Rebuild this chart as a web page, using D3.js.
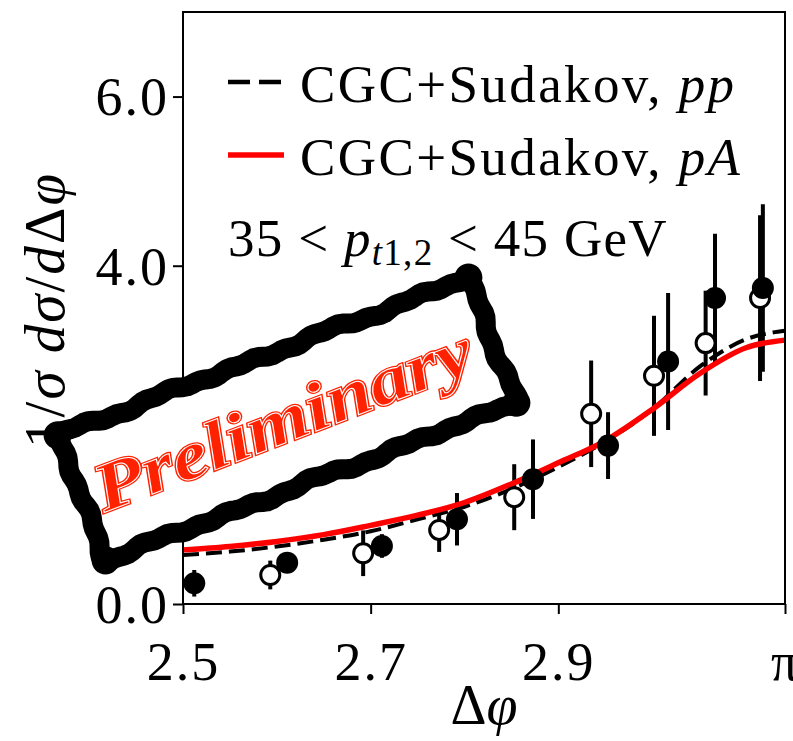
<!DOCTYPE html>
<html><head><meta charset="utf-8">
<script src="https://cdn.jsdelivr.net/npm/d3@7"></script>
<style>body{margin:0;background:#fff} svg{display:block} text{font-family:"Liberation Serif",serif}</style>
</head><body><svg id="c" width="793" height="741"></svg>
<script>
// ---- data ----
const curveX = [2.50, 2.55, 2.60, 2.65, 2.70, 2.75, 2.80, 2.85, 2.90, 2.95, 3.00, 3.05, 3.10, Math.PI];
const ppY    = [0.58, 0.62, 0.68, 0.76, 0.86, 1.00, 1.15, 1.36, 1.62, 1.92, 2.30, 2.80, 3.13, 3.23];
const pAY    = [0.64, 0.68, 0.74, 0.82, 0.93, 1.05, 1.20, 1.42, 1.67, 1.93, 2.30, 2.72, 3.03, 3.12];
const openX   = [2.593, 2.692, 2.773, 2.853, 2.935, 3.002, 3.057, 3.115];
const openY   = [0.343, 0.600, 0.876, 1.263, 2.249, 2.698, 3.085, 3.618];
const openErr = [0.17, 0.27, 0.26, 0.39, 0.63, 0.71, 0.62, 0.98];
const fullX   = [2.512, 2.611, 2.712, 2.792, 2.873, 2.953, 3.017, 3.067, 3.118];
const fullY   = [0.245, 0.489, 0.686, 1.002, 1.476, 1.873, 2.867, 3.618, 3.736];
const fullErr = [0.157, 0.10, 0.14, 0.31, 0.47, 0.395, 0.81, 0.76, 0.99];
const xTicks = [2.5, 2.7, 2.9, Math.PI];
const xTickLabels = ["2.5", "2.7", "2.9", "π"];
const yTicks = [0, 2, 4, 6];
const yTickLabels = ["0.0", "2.0", "4.0", "6.0"];
const legendLabels = ["CGC+Sudakov, ", "CGC+Sudakov, "];
const legendItalic = ["pp", "pA"];

// ---- layout ----
const svg = d3.select("#c");
const L = 183, R = 785, T = 12, B = 604;
const x = d3.scaleLinear().domain([2.5, Math.PI]).range([L, R]);
const y = d3.scaleLinear().domain([0, 7]).range([B, T]);
const FS = 54;

const g = svg.append("g");

// error bars
const open = openX.map((v, i) => ({x: v, y: openY[i], e: openErr[i]}));
const full = fullX.map((v, i) => ({x: v, y: fullY[i], e: fullErr[i]}));
[open, full].forEach(ds => {
  g.selectAll(null).data(ds).enter().append("line")
    .attr("x1", d => x(d.x)).attr("x2", d => x(d.x))
    .attr("y1", d => y(d.y - d.e)).attr("y2", d => y(d.y + d.e))
    .attr("stroke", "#000").attr("stroke-width", 4);
});

// curves
const line = d3.line().curve(d3.curveMonotoneX);
g.append("path").attr("d", line(curveX.map((v, i) => [x(v), y(ppY[i])])))
  .attr("fill", "none").attr("stroke", "#000").attr("stroke-width", 4)
  .attr("stroke-dasharray", "16,7");
g.append("path").attr("d", line(curveX.map((v, i) => [x(v), y(pAY[i])])))
  .attr("fill", "none").attr("stroke", "#ff0000").attr("stroke-width", 5.5);

// markers
g.selectAll(null).data(open).enter().append("circle")
  .attr("cx", d => x(d.x)).attr("cy", d => y(d.y)).attr("r", 9.5)
  .attr("fill", "#fff").attr("stroke", "#000").attr("stroke-width", 3);
g.selectAll(null).data(full).enter().append("circle")
  .attr("cx", d => x(d.x)).attr("cy", d => y(d.y)).attr("r", 11)
  .attr("fill", "#000");

// frame
svg.append("rect").attr("x", L).attr("y", T).attr("width", R - L).attr("height", B - T)
  .attr("fill", "none").attr("stroke", "#000").attr("stroke-width", 2);

// x axis
const xa = svg.append("g").attr("transform", `translate(0,${B})`)
  .call(d3.axisBottom(x).tickValues(xTicks).tickFormat((d, i) => xTickLabels[i]).tickSize(10).tickSizeOuter(0));
xa.select(".domain").remove();
xa.selectAll("line").attr("stroke", "#000").attr("stroke-width", 2);
xa.selectAll("text").attr("y", 76).attr("dy", 0)
  .style("font-size", FS + "px").style("font-family", "'Liberation Serif',serif").style("letter-spacing", "2px").style("fill", "#000");

// y axis
const ya = svg.append("g").attr("transform", `translate(${L},0)`)
  .call(d3.axisLeft(y).tickValues(yTicks).tickFormat((d, i) => yTickLabels[i]).tickSize(10).tickSizeOuter(0));
ya.select(".domain").remove();
ya.selectAll("line").attr("stroke", "#000").attr("stroke-width", 2);
ya.selectAll("text").attr("x", -14).attr("dy", "0.34em")
  .style("font-size", FS + "px").style("font-family", "'Liberation Serif',serif").style("letter-spacing", "2px").style("fill", "#000");

// axis labels
const xl = svg.append("text").attr("x", (L + R) / 2).attr("y", 724).attr("text-anchor", "middle").style("font-size", "56px");
xl.append("tspan").text("Δ");
xl.append("tspan").attr("font-style", "italic").text("φ");

const yl = svg.append("text").attr("transform", `translate(64,${(T + B) / 2 + 2}) rotate(-90)`)
  .attr("text-anchor", "middle").style("font-size", "57px").style("letter-spacing", "2px");
yl.append("tspan").text("1/");
yl.append("tspan").attr("font-style", "italic").text("σ d");
yl.append("tspan").attr("font-style", "italic").text("σ");
yl.append("tspan").text("/");
yl.append("tspan").attr("font-style", "italic").text("d");
yl.append("tspan").text("Δ");
yl.append("tspan").attr("font-style", "italic").text("φ");

// legend
const legY = [82, 155];
svg.append("line").attr("x1", 228).attr("x2", 286).attr("y1", legY[0]).attr("y2", legY[0])
  .attr("stroke", "#000").attr("stroke-width", 4.5).attr("stroke-dasharray", "22,9");
svg.append("line").attr("x1", 228).attr("x2", 284).attr("y1", legY[1]).attr("y2", legY[1])
  .attr("stroke", "#ff0000").attr("stroke-width", 5.5);
legendLabels.forEach((t, i) => {
  const tx = svg.append("text").attr("x", 300).attr("y", legY[i] + 20).style("font-size", "53px").style("letter-spacing", "2.4px");
  tx.append("tspan").text(t);
  tx.append("tspan").attr("font-style", "italic").text(legendItalic[i]);
});
const ann = svg.append("text").attr("x", 228).attr("y", 256).style("font-size", "53px").style("letter-spacing", "1.3px");
ann.append("tspan").text("35 < ");
ann.append("tspan").attr("font-style", "italic").text("p");
ann.append("tspan").attr("font-style", "italic").attr("dy", 9).style("font-size", "37px").text("t");
ann.append("tspan").style("font-size", "37px").text("1,2");
ann.append("tspan").attr("dy", -9).text(" < 45 GeV");

// ---- Preliminary stamp ----
function roughRect(w, h, n) {
  const pts = [], per = 2 * (w + h);
  for (let i = 0; i < n; i++) {
    const s = i / n * per; let px, py, nx, ny;
    if (s < w) { px = -w / 2 + s; py = -h / 2; nx = 0; ny = -1; }
    else if (s < w + h) { px = w / 2; py = -h / 2 + (s - w); nx = 1; ny = 0; }
    else if (s < 2 * w + h) { px = w / 2 - (s - w - h); py = h / 2; nx = 0; ny = 1; }
    else { px = -w / 2; py = h / 2 - (s - 2 * w - h); nx = -1; ny = 0; }
    const o = 1.8 * Math.sin(s * 0.07) + 1.2 * Math.sin(s * 0.21 + 1) + 0.9 * Math.sin(s * 0.043 + 2);
    pts.push([px + nx * o, py + ny * o]);
  }
  return pts;
}
const st = svg.append("g").attr("transform", "translate(287,419) rotate(-21)");
const sw = 440, sh = 134;
st.append("path").attr("d", d3.line().curve(d3.curveLinearClosed)(roughRect(sw, sh, 240)))
  .attr("fill", "#fff").attr("stroke", "#000").attr("stroke-width", 20).attr("stroke-linejoin", "round");
[[-1, -1], [1, -1], [1, 1], [-1, 1]].forEach(([a, b]) => {
  st.append("circle").attr("cx", a * sw / 2).attr("cy", b * sh / 2).attr("r", 14).attr("fill", "#000");
});
const stampFont = sel => sel.attr("x", -4).attr("y", 0).attr("dy", "0.32em").attr("text-anchor", "middle")
  .attr("textLength", 400).attr("lengthAdjust", "spacingAndGlyphs")
  .style("font-size", "68px").style("font-weight", "bold").style("font-style", "italic")
  .style("font-family", "'Liberation Serif',serif").text("Preliminary");
st.append("text").call(stampFont)
  .style("fill", "#ff2200").style("stroke", "#ff2200").style("stroke-width", "3.5px");
st.append("text").call(stampFont)
  .style("fill", "#ff2200").style("stroke", "#ffffff").style("stroke-width", "1px");
</script></body></html>
